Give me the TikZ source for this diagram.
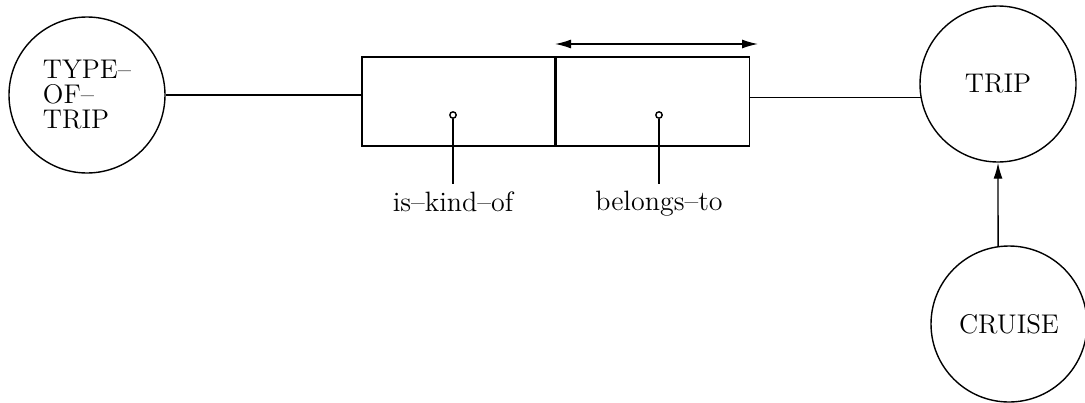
\documentclass[tikz,border=0pt]{standalone}
\usepackage{tikz}
\usetikzlibrary{arrows.meta}

\tikzset{
  concept/.style={draw, circle, minimum size=78pt, inner sep=0pt, font=\fontsize{13.5}{12.5}\selectfont},
  slot/.style={draw, rectangle, minimum width=96.5pt, minimum height=44.5pt, inner sep=0pt},
  knob/.style={draw, circle, inner sep=0pt, minimum size=3.2pt},
  tag/.style={font=\fontsize{14}{14}\selectfont, anchor=north}
}

\begin{document}
\begin{tikzpicture}[x=0.5pt, y=-0.5pt, line width=0.7pt]
\useasboundingbox (0,0) rectangle (1085,402);

% concepts
\node[concept, align=left] (type) at (87,95) {TYPE--\\OF--\\TRIP};
\node[concept] (trip) at (998,84) {TRIP};
\node[concept] (cruise) at (1009,324) {CRUISE};

% the two slots of the relation
\node[slot] (kind) at (458.5,101.5) {};
\node[slot] (belongs) at (653,101.5) {};
\node[knob] (kknob) at (453,115) {};
\node[knob] (bknob) at (659,115) {};
\node[tag] (klbl) at (453,184) {is--kind--of};
\node[tag] (blbl) at (659,184) {belongs--to};
\draw (kknob) -- (klbl);
\draw (bknob) -- (blbl);

% arrow over the second slot
\coordinate (al) at (555,44);
\coordinate (ar) at (758,44);
\draw[{Latex[length=8pt,width=4.5pt]}-{Latex[length=8pt,width=4.5pt]}] (al) -- (ar);

% links
\draw (type.east) -- (type.east -| kind.west);
\draw (belongs.east |- trip.190) -- (trip.190);
\draw[-{Latex[length=8pt,width=4.5pt]}] (cruise.98) -- (trip.south);
\end{tikzpicture}
\end{document}
